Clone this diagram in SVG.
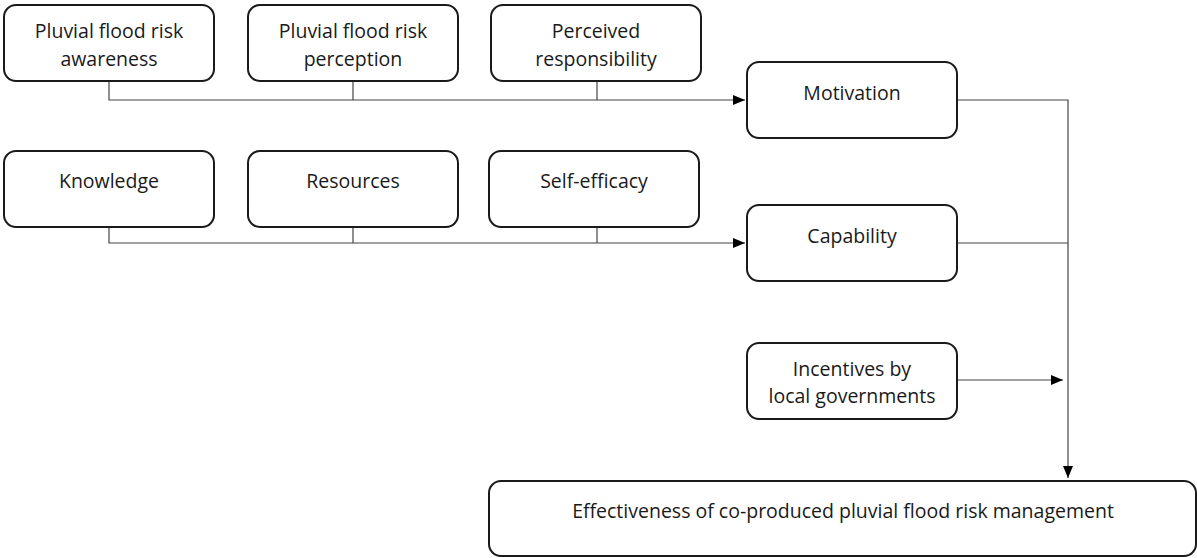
<svg xmlns="http://www.w3.org/2000/svg" width="1197" height="558" viewBox="0 0 1197 558">
<defs>
<style>
.box{fill:#fff;stroke:#1a1a1a;stroke-width:2}
.t{font-family:"Open Sans","Liberation Sans",sans-serif;font-size:19.5px;fill:#1a1a1a;text-anchor:middle}
.c{fill:none;stroke:#444;stroke-width:1.2}
</style>
<marker id="ah" viewBox="0 0 12 10" refX="12" refY="5" markerWidth="12" markerHeight="10" markerUnits="userSpaceOnUse" orient="auto">
<path d="M0,0 L12,5 L0,10 z" fill="#000"/>
</marker>
</defs>
<rect width="1197" height="558" fill="#fff"/>
<g id="connectors">
<path class="c" d="M109,81 V100 H745" marker-end="url(#ah)"/>
<path class="c" d="M353,81 V100"/>
<path class="c" d="M597,81 V100"/>
<path class="c" d="M109,227 V243 H745" marker-end="url(#ah)"/>
<path class="c" d="M353,227 V243"/>
<path class="c" d="M597,227 V243"/>
<path class="c" d="M957,100 H1068 V478" marker-end="url(#ah)"/>
<path class="c" d="M957,243 H1068"/>
<path class="c" d="M957,380 H1063" marker-end="url(#ah)"/>
</g>
<g id="awareness"><rect class="box" x="4" y="5" width="210" height="76" rx="12"/><text class="t" x="109" y="38">Pluvial flood risk</text><text class="t" x="109" y="66">awareness</text></g>
<g id="perception"><rect class="box" x="248" y="5" width="210" height="76" rx="12"/><text class="t" x="353" y="38">Pluvial flood risk</text><text class="t" x="353" y="66">perception</text></g>
<g id="responsibility"><rect class="box" x="491" y="5" width="210" height="76" rx="12"/><text class="t" x="596" y="38">Perceived</text><text class="t" x="596" y="66">responsibility</text></g>
<g id="motivation"><rect class="box" x="747" y="62" width="210" height="76" rx="12"/><text class="t" x="852" y="100">Motivation</text></g>
<g id="knowledge"><rect class="box" x="4" y="151" width="210" height="76" rx="12"/><text class="t" x="109" y="188">Knowledge</text></g>
<g id="resources"><rect class="box" x="248" y="151" width="210" height="76" rx="12"/><text class="t" x="353" y="188">Resources</text></g>
<g id="selfefficacy"><rect class="box" x="489" y="151" width="210" height="76" rx="12"/><text class="t" x="594" y="188">Self-efficacy</text></g>
<g id="capability"><rect class="box" x="747" y="205" width="210" height="76" rx="12"/><text class="t" x="852" y="243">Capability</text></g>
<g id="incentives"><rect class="box" x="747" y="343" width="210" height="76" rx="12"/><text class="t" x="852" y="376">Incentives by</text><text class="t" x="852" y="403">local governments</text></g>
<g id="effectiveness"><rect class="box" x="489" y="481" width="707" height="75" rx="12"/><text class="t" x="843" y="518">Effectiveness of co-produced pluvial flood risk management</text></g>
</svg>
